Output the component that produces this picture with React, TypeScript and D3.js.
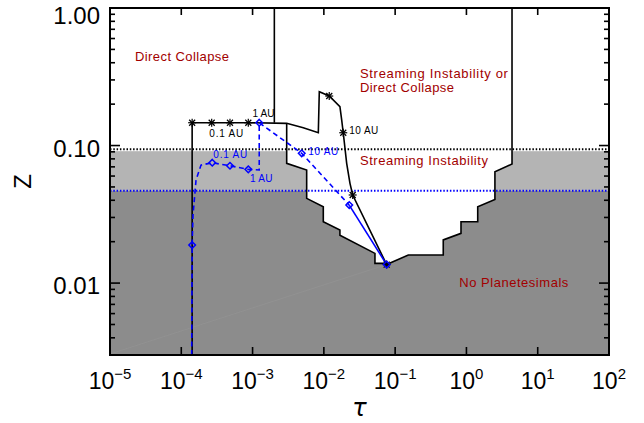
import { useRef, useEffect } from "react"
import * as d3 from "d3"

type Pt = [number, number]

// axis ticks
const xTickValues = [1e-5, 1e-4, 1e-3, 1e-2, 1e-1, 1, 10, 100]
const xTickExponents = ["−5", "−4", "−3", "−2", "−1", "0", "1", "2"]
const yTickValues = [1, 0.1, 0.01]
const yTickLabels = ["1.00", "0.10", "0.01"]

// horizontal thresholds (Z)
const zDottedBlack = 0.094
const zGrayTop = 0.091
const zDottedBlue = 0.047

// boundary between direct collapse and streaming regions
const dcBoundary: Pt[] = [
  [0.00202, 1.0],
  [0.00202, 0.1465],
]

// edge of the white pocket cut into the gray regions
const pocketEdge: Pt[] = [
  [0.00301, 0.145],
  [0.00301, 0.0742],
  [0.00574, 0.0664],
  [0.00574, 0.0413],
  [0.00982, 0.0359],
  [0.00982, 0.0279],
  [0.0168, 0.0243],
  [0.0168, 0.0223],
  [0.0521, 0.01644],
  [0.0521, 0.0139],
  [0.0735, 0.0139],
  [0.076, 0.01363],
  [0.153, 0.016],
  [0.473, 0.016],
  [0.473, 0.0206],
  [0.839, 0.023],
  [0.839, 0.0279],
  [1.44, 0.0279],
  [1.44, 0.0359],
  [2.51, 0.0406],
  [2.51, 0.0645],
  [4.36, 0.0734],
  [4.36, 1.0],
]

// black track (asterisks)
const blackTrack: Pt[] = [
  [1.42e-4, 0.003],
  [1.42e-4, 0.1465],
  [2.67e-4, 0.1465],
  [4.82e-4, 0.1465],
  [8.71e-4, 0.1465],
  [0.00301, 0.145],
  [0.00514, 0.1347],
  [0.00836, 0.1239],
  [0.00863, 0.246],
  [0.0119, 0.229],
  [0.0168, 0.1915],
  [0.0178, 0.1533],
  [0.0187, 0.1239],
  [0.0209, 0.0742],
  [0.02325, 0.0531],
  [0.02538, 0.0437],
  [0.076, 0.01363],
]
const blackStars: Pt[] = [
  [1.42e-4, 0.1465],
  [2.67e-4, 0.1465],
  [4.82e-4, 0.1465],
  [8.71e-4, 0.1465],
  [0.0119, 0.229],
  [0.0187, 0.1239],
  [0.02538, 0.0437],
  [0.076, 0.01363],
]

// blue track (diamonds)
const blueDashed: Pt[] = [
  [1.4e-4, 0.003],
  [1.42e-4, 0.0189],
  [1.46e-4, 0.0312],
  [1.61e-4, 0.0561],
  [1.89e-4, 0.0721],
  [2.72e-4, 0.075],
  [4.82e-4, 0.0713],
  [8.71e-4, 0.0671],
  [1.24e-3, 0.0664],
  [1.24e-3, 0.1465],
  [0.00489, 0.0878],
  [0.0227, 0.0369],
]
const blueSolid: Pt[] = [
  [0.0227, 0.0369],
  [0.076, 0.01363],
]
const blueDiamonds: Pt[] = [
  [1.42e-4, 0.0189],
  [2.72e-4, 0.075],
  [4.82e-4, 0.0713],
  [8.71e-4, 0.0671],
  [1.24e-3, 0.1465],
  [0.00489, 0.0878],
  [0.0227, 0.0369],
  [0.076, 0.01363],
]

// faint power-law line in the dark region
const faintLine: Pt[] = [
  [1e-5, 0.00305],
  [0.076, 0.01363],
]

// annotations: text, tau, Z (left / baseline), width
const regionLabels: [string, number, number, number][] = [
  ["Direct Collapse", 2.24e-5, 0.415, 94],
  ["Streaming Instability or", 0.0321, 0.308, 148],
  ["Direct Collapse", 0.0321, 0.245, 94],
  ["Streaming Instability", 0.0321, 0.0722, 128],
  ["No Planetesimals", 0.794, 0.0094, 109],
]
const blackAuLabels: [string, number, number, number][] = [
  ["0.1 AU", 2.47e-4, 0.1159, 34],
  ["1 AU", 1.0e-3, 0.162, 22],
  ["10 AU", 0.0227, 0.121, 29],
]
const blueAuLabels: [string, number, number, number][] = [
  ["0.1 AU", 2.81e-4, 0.0807, 34],
  ["1 AU", 9.2e-4, 0.0545, 22.5],
  ["10 AU", 0.00605, 0.0853, 30],
]

export default function App() {
  const svgRef = useRef<SVGSVGElement>(null)

  useEffect(() => {
    if (!svgRef.current) return
    const svg = d3.select(svgRef.current)
    svg.selectAll("*").remove()

    const width = 644
    const height = 423
    const margin = { top: 8, right: 35, bottom: 68, left: 110 }
    const x0 = margin.left
    const x1 = width - margin.right
    const y0 = margin.top
    const y1 = height - margin.bottom

    const x = d3.scaleLog().domain([1e-5, 100]).range([x0, x1])
    const y = d3.scaleLog().domain([0.003, 1]).range([y1, y0])

    const font = "'Liberation Sans', Arial, sans-serif"
    const red = "#a20000"
    const blue = "#0000ff"

    svg.append("rect").attr("width", width).attr("height", height).attr("fill", "white")

    // gray regions
    svg
      .append("rect")
      .attr("x", x0)
      .attr("y", y(zGrayTop))
      .attr("width", x1 - x0)
      .attr("height", y(zDottedBlue) - y(zGrayTop))
      .attr("fill", "#b4b4b4")
    svg
      .append("rect")
      .attr("x", x0)
      .attr("y", y(zDottedBlue))
      .attr("width", x1 - x0)
      .attr("height", y1 - y(zDottedBlue))
      .attr("fill", "#8c8c8c")

    const line = d3
      .line<Pt>()
      .x((d) => x(d[0]))
      .y((d) => y(d[1]))

    // white pocket
    const pocketFill = pocketEdge.map((d) => [d[0], Math.min(d[1], zDottedBlack)] as Pt)
    svg
      .append("path")
      .attr("d", line(pocketFill) + "Z")
      .attr("fill", "white")

    svg
      .append("path")
      .attr("d", line(faintLine))
      .attr("fill", "none")
      .attr("stroke", "#939393")
      .attr("stroke-width", 0.7)

    // dotted thresholds
    svg
      .append("line")
      .attr("x1", x0)
      .attr("x2", x1)
      .attr("y1", y(zDottedBlack))
      .attr("y2", y(zDottedBlack))
      .attr("stroke", "black")
      .attr("stroke-width", 2)
      .attr("stroke-dasharray", "1.5 1.8")
    svg
      .append("line")
      .attr("x1", x0)
      .attr("x2", x1)
      .attr("y1", y(zDottedBlue))
      .attr("y2", y(zDottedBlue))
      .attr("stroke", blue)
      .attr("stroke-width", 2)
      .attr("stroke-dasharray", "1.5 1.8")

    // boundaries
    ;[dcBoundary, pocketEdge].forEach((pts) => {
      svg
        .append("path")
        .attr("d", line(pts))
        .attr("fill", "none")
        .attr("stroke", "black")
        .attr("stroke-width", 1.6)
    })

    // black track
    svg
      .append("path")
      .attr("d", line(blackTrack))
      .attr("fill", "none")
      .attr("stroke", "black")
      .attr("stroke-width", 1.6)

    // blue track
    svg
      .append("path")
      .attr("d", line(blueDashed))
      .attr("fill", "none")
      .attr("stroke", blue)
      .attr("stroke-width", 1.6)
      .attr("stroke-dasharray", "5 3.5")
    svg
      .append("path")
      .attr("d", line(blueSolid))
      .attr("fill", "none")
      .attr("stroke", blue)
      .attr("stroke-width", 1.6)

    // asterisks
    const r = 4
    blackStars.forEach((d) => {
      const g = svg.append("g").attr("transform", `translate(${x(d[0])},${y(d[1])})`)
      const segs = [
        [-r, 0, r, 0],
        [0, -r, 0, r],
        [-r * 0.75, -r * 0.75, r * 0.75, r * 0.75],
        [-r * 0.75, r * 0.75, r * 0.75, -r * 0.75],
      ]
      segs.forEach((s) =>
        g
          .append("line")
          .attr("x1", s[0])
          .attr("y1", s[1])
          .attr("x2", s[2])
          .attr("y2", s[3])
          .attr("stroke", "black")
          .attr("stroke-width", 1.2),
      )
    })

    // diamonds
    const dr = 3.3
    svg
      .selectAll("path.diamond")
      .data(blueDiamonds)
      .join("path")
      .attr("class", "diamond")
      .attr("d", `M0,${-dr}L${dr},0L0,${dr}L${-dr},0Z`)
      .attr("transform", (d) => `translate(${x(d[0])},${y(d[1])})`)
      .attr("fill", "none")
      .attr("stroke", blue)
      .attr("stroke-width", 1.5)

    // region labels
    regionLabels.forEach(([t, tau, z, len]) => {
      svg
        .append("text")
        .attr("x", x(tau))
        .attr("y", y(z))
        .attr("font-family", font)
        .attr("font-size", 13)
        .attr("fill", red)
        .attr("textLength", len)
        .attr("lengthAdjust", "spacing")
        .text(t)
    })
    blackAuLabels.forEach(([t, tau, z, len]) => {
      svg
        .append("text")
        .attr("x", x(tau))
        .attr("y", y(z))
        .attr("font-family", font)
        .attr("font-size", 10)
        .attr("fill", "black")
        .attr("textLength", len)
        .attr("lengthAdjust", "spacing")
        .text(t)
    })
    blueAuLabels.forEach(([t, tau, z, len]) => {
      svg
        .append("text")
        .attr("x", x(tau))
        .attr("y", y(z))
        .attr("font-family", font)
        .attr("font-size", 10)
        .attr("fill", blue)
        .attr("textLength", len)
        .attr("lengthAdjust", "spacing")
        .text(t)
    })

    // frame
    svg
      .append("rect")
      .attr("x", x0)
      .attr("y", y0)
      .attr("width", x1 - x0)
      .attr("height", y1 - y0)
      .attr("fill", "none")
      .attr("stroke", "black")
      .attr("stroke-width", 2)

    // x ticks (top and bottom, inward)
    xTickValues.forEach((v, i) => {
      const px = x(v)
      svg.append("line").attr("x1", px).attr("x2", px).attr("y1", y1).attr("y2", y1 - 8).attr("stroke", "black").attr("stroke-width", 1.6)
      svg.append("line").attr("x1", px).attr("x2", px).attr("y1", y0).attr("y2", y0 + 7).attr("stroke", "black").attr("stroke-width", 1.6)
      const t = svg
        .append("text")
        .attr("x", px)
        .attr("y", 388.5)
        .attr("text-anchor", "middle")
        .attr("font-family", font)
        .attr("font-size", 23)
        .attr("fill", "black")
      t.append("tspan").text("10")
      t.append("tspan").attr("dy", -10).attr("font-size", 15).text(xTickExponents[i])
    })

    // y ticks: major + minor
    const minor = y.ticks().filter((v) => !yTickValues.some((m) => Math.abs(m - v) / m < 1e-6))
    minor.forEach((v) => {
      const py = y(v)
      svg.append("line").attr("x1", x0).attr("x2", x0 + 5).attr("y1", py).attr("y2", py).attr("stroke", "black").attr("stroke-width", 1.6)
      svg.append("line").attr("x1", x1).attr("x2", x1 - 5).attr("y1", py).attr("y2", py).attr("stroke", "black").attr("stroke-width", 1.6)
    })
    yTickValues.forEach((v, i) => {
      const py = y(v)
      svg.append("line").attr("x1", x0).attr("x2", x0 + 10).attr("y1", py).attr("y2", py).attr("stroke", "black").attr("stroke-width", 1.6)
      svg.append("line").attr("x1", x1).attr("x2", x1 - 10).attr("y1", py).attr("y2", py).attr("stroke", "black").attr("stroke-width", 1.6)
      svg
        .append("text")
        .attr("x", 100)
        .attr("y", i === 0 ? py + 16 : py + 11)
        .attr("text-anchor", "end")
        .attr("font-family", font)
        .attr("font-size", 24)
        .attr("fill", "black")
        .text(yTickLabels[i])
    })

    // axis titles
    svg
      .append("text")
      .attr("x", (x0 + x1) / 2)
      .attr("y", 416)
      .attr("text-anchor", "middle")
      .attr("font-family", "'DejaVu Sans', sans-serif")
      .attr("font-style", "italic")
      .attr("font-size", 24)
      .attr("fill", "black")
      .text("τ")
    svg
      .append("text")
      .attr("transform", `translate(31,${(y0 + y1) / 2}) rotate(-90)`)
      .attr("text-anchor", "middle")
      .attr("font-family", font)
      .attr("font-size", 24)
      .attr("fill", "black")
      .text("Z")
  }, [])

  return (
    <svg
      ref={svgRef}
      width={644}
      height={423}
      style={{ position: "absolute", left: 0, top: 0, display: "block" }}
    />
  )
}
